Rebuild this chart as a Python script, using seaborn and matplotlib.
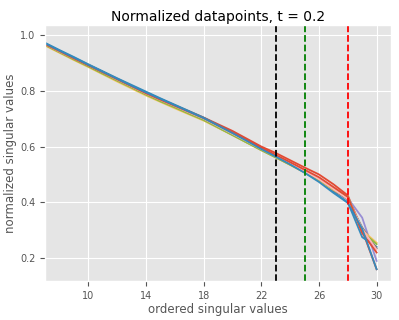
import pandas as pd
import matplotlib
matplotlib.use("Agg")
import matplotlib.pyplot as plt
import seaborn as sns

# ordered singular values (index) shown in the plot
x_vals = list(range(7, 31))

s1 = [0.968, 0.943, 0.918, 0.893, 0.868, 0.843, 0.818, 0.793, 0.770, 0.748, 0.726, 0.704,
      0.680, 0.656, 0.628, 0.600, 0.577, 0.551, 0.525, 0.500, 0.465, 0.425, 0.300, 0.160]
s2 = [0.972, 0.946, 0.921, 0.895, 0.870, 0.845, 0.821, 0.797, 0.773, 0.750, 0.727, 0.704,
      0.677, 0.650, 0.622, 0.593, 0.566, 0.538, 0.508, 0.476, 0.438, 0.400, 0.275, 0.240]
s3 = [0.966, 0.940, 0.915, 0.890, 0.864, 0.838, 0.813, 0.788, 0.765, 0.743, 0.720, 0.698,
      0.671, 0.644, 0.616, 0.589, 0.563, 0.537, 0.510, 0.481, 0.447, 0.415, 0.345, 0.190]
s4 = [0.965, 0.939, 0.914, 0.889, 0.864, 0.839, 0.814, 0.789, 0.765, 0.742, 0.719, 0.696,
      0.669, 0.642, 0.615, 0.588, 0.562, 0.535, 0.508, 0.479, 0.444, 0.410, 0.310, 0.235]
s5 = [0.962, 0.936, 0.910, 0.885, 0.859, 0.833, 0.808, 0.783, 0.760, 0.737, 0.715, 0.693,
      0.667, 0.641, 0.614, 0.587, 0.561, 0.534, 0.507, 0.478, 0.445, 0.418, 0.300, 0.255]
s6 = [0.964, 0.938, 0.912, 0.887, 0.861, 0.836, 0.811, 0.786, 0.762, 0.740, 0.717, 0.695,
      0.668, 0.641, 0.614, 0.587, 0.561, 0.535, 0.508, 0.480, 0.447, 0.420, 0.295, 0.250]
s7 = [0.967, 0.941, 0.916, 0.891, 0.866, 0.840, 0.815, 0.790, 0.767, 0.745, 0.722, 0.700,
      0.673, 0.646, 0.619, 0.591, 0.565, 0.539, 0.512, 0.483, 0.448, 0.412, 0.305, 0.230]
s8 = [0.967, 0.942, 0.916, 0.891, 0.866, 0.841, 0.816, 0.791, 0.768, 0.746, 0.724, 0.702,
      0.676, 0.650, 0.623, 0.596, 0.570, 0.544, 0.517, 0.490, 0.455, 0.420, 0.290, 0.220]
s9 = [0.970, 0.944, 0.919, 0.893, 0.868, 0.843, 0.818, 0.794, 0.771, 0.748, 0.725, 0.702,
      0.675, 0.648, 0.620, 0.591, 0.564, 0.536, 0.506, 0.473, 0.434, 0.398, 0.305, 0.160]

series = [s1, s2, s3, s4, s5, s6, s7, s8, s9]

# vertical cut-offs
cut_x = [23, 25, 28]
cut_colors = ["k", "g", "r"]

plt.style.use("ggplot")

rows = []
for i, s in enumerate(series):
    for xv, yv in zip(x_vals, s):
        rows.append({"idx": xv, "val": yv, "run": i})
df = pd.DataFrame(rows)

cycle = ["#E24A33", "#348ABD", "#988ED5", "#777777", "#FBC15E", "#8EBA42", "#FFB5B8"]
palette = [cycle[i % len(cycle)] for i in range(len(series))]

fig = plt.figure(figsize=(3.99, 3.2), dpi=100)
ax = fig.add_axes([0.113, 0.122, 0.867, 0.800])
sns.lineplot(data=df, x="idx", y="val", hue="run", palette=palette,
             legend=False, linewidth=1.3, ax=ax)

for cx, cc in zip(cut_x, cut_colors):
    ax.axvline(cx, color=cc, linestyle="--", linewidth=1.3)

ax.set_xlim(7, 31)
ax.set_ylim(0.118, 1.036)
ax.set_xticks([10, 14, 18, 22, 26, 30])
ax.set_yticks([0.2, 0.4, 0.6, 0.8, 1.0])
ax.tick_params(labelsize=7)
ax.set_title("Normalized datapoints, t = 0.2", fontsize=10, pad=3)
ax.set_xlabel("ordered singular values", fontsize=8.5, labelpad=2)
ax.set_ylabel("normalized singular values", fontsize=8.5, labelpad=2)

fig.savefig("out.png", dpi=100)
